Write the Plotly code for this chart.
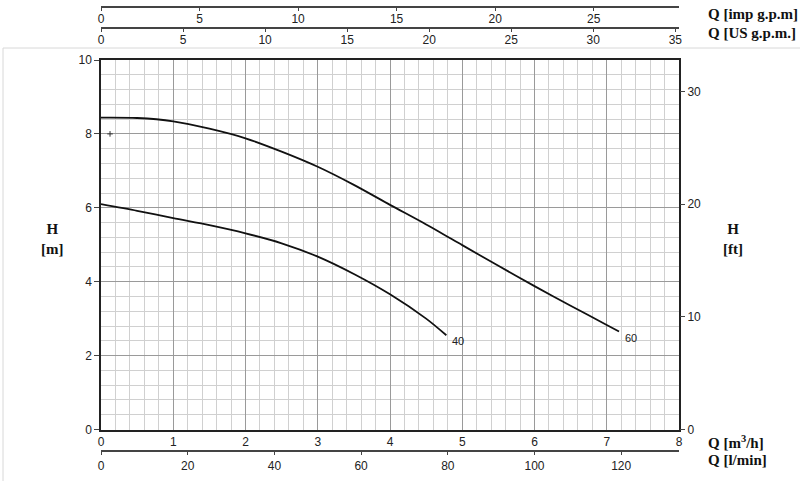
import plotly.graph_objects as go

# ---- data ----
q60 = [0, 0.5, 1, 1.5, 2, 2.5, 3, 3.5, 4, 4.5, 5, 5.5, 6, 6.5, 7, 7.17]
h60 = [8.44, 8.43, 8.34, 8.14, 7.88, 7.52, 7.11, 6.62, 6.08, 5.55, 4.99, 4.43, 3.88, 3.35, 2.83, 2.65]
q40 = [0, 0.5, 1, 1.5, 2, 2.5, 3, 3.5, 4, 4.5, 4.78]
h40 = [6.10, 5.92, 5.72, 5.53, 5.31, 5.04, 4.68, 4.21, 3.66, 3.00, 2.55]
curve_names = ["40", "60"]
marker_q = [0.125]
marker_h = [8.0]

q_max = 8.0          # m3/h
h_max = 10.0         # m
lmin_max = q_max * 1000 / 60
imp_max = lmin_max / 4.54609
us_max = lmin_max / 3.78541
ft_max = h_max / 0.3048

W, H = 800, 481
ML, MR = 101, 121
plot_top, plot_bot = 60, 429.5

def py(pix):
    return 1 - pix / H

def px(pix):
    return (pix - ML) / (W - ML - MR)

tick_font = dict(family="Liberation Sans, Arial, sans-serif", size=12, color="#222")
title_font = dict(family="Liberation Serif, Times New Roman, serif", size=15, color="#111")

fig = go.Figure()
line_style = dict(color="#111", width=1.8, shape="spline", smoothing=0.8)
fig.add_trace(go.Scatter(x=q40, y=h40, mode="lines", line=line_style, showlegend=False, hoverinfo="skip"))
fig.add_trace(go.Scatter(x=q60, y=h60, mode="lines", line=line_style, showlegend=False, hoverinfo="skip"))
fig.add_trace(go.Scatter(x=marker_q, y=marker_h, mode="markers",
                         marker=dict(symbol="cross-thin", size=4, line=dict(color="#333", width=1)),
                         showlegend=False, hoverinfo="skip"))
# helper traces to bind secondary axes
fig.add_trace(go.Scatter(x=[0], y=[0], xaxis="x2", yaxis="y", mode="none", showlegend=False, hoverinfo="skip"))
fig.add_trace(go.Scatter(x=[0], y=[0], xaxis="x3", yaxis="y", mode="none", showlegend=False, hoverinfo="skip"))
fig.add_trace(go.Scatter(x=[0], y=[0], xaxis="x4", yaxis="y", mode="none", showlegend=False, hoverinfo="skip"))
fig.add_trace(go.Scatter(x=[0], y=[0], xaxis="x", yaxis="y2", mode="none", showlegend=False, hoverinfo="skip"))

for qs, hs, name in zip([q40, q60], [h40, h60], curve_names):
    fig.add_annotation(x=qs[-1], y=hs[-1], text=name, showarrow=False, xanchor="left",
                       yanchor="middle", xshift=4, yshift=-6,
                       font=dict(family="Liberation Sans, Arial, sans-serif", size=11, color="#222"))

sec_axis = dict(anchor="free", overlaying="x", side="bottom", showgrid=False, zeroline=False,
                showline=True, linecolor="#444", linewidth=1.5, ticks="outside", ticklen=3,
                tickcolor="#444", tickfont=tick_font)

fig.update_layout(
    width=W, height=H,
    margin=dict(l=ML, r=MR, t=0, b=0, autoexpand=False),
    paper_bgcolor="white", plot_bgcolor="white",
    xaxis=dict(range=[0, q_max], dtick=1, showgrid=True, gridcolor="#9a9a9a", gridwidth=1,
               minor=dict(dtick=0.2, showgrid=True, gridcolor="#d0d0d0", gridwidth=1),
               showline=True, mirror=True, linecolor="#222", linewidth=1.5, zeroline=False,
               ticks="", tickfont=tick_font),
    yaxis=dict(range=[0, h_max], dtick=2, domain=[py(plot_bot), py(plot_top)],
               showgrid=True, gridcolor="#9a9a9a", gridwidth=1,
               minor=dict(dtick=0.4, showgrid=True, gridcolor="#d0d0d0", gridwidth=1),
               showline=True, mirror=True, linecolor="#222", linewidth=1.5, zeroline=False,
               ticks="outside", ticklen=5, tickcolor="#444", tickfont=tick_font),
    yaxis2=dict(range=[0, ft_max], dtick=10, overlaying="y", side="right", anchor="x",
                showgrid=False, zeroline=False, showline=False,
                ticks="outside", ticklen=5, tickcolor="#444", tickfont=tick_font),
    xaxis2=dict(range=[0, imp_max], dtick=5, position=py(7), ticklabelstandoff=-2, **sec_axis),
    xaxis3=dict(range=[0, us_max], dtick=5, position=py(28), ticklabelstandoff=-2, **sec_axis),
    xaxis4=dict(range=[0, lmin_max], dtick=20, position=py(451), ticklabelstandoff=1, **sec_axis),
)

# light outer frame
fig.add_shape(type="rect", xref="paper", yref="paper",
              x0=px(3), x1=px(805), y0=py(490), y1=py(48),
              line=dict(color="#d8d8d8", width=1), layer="below")

titles = [
    ("<b>Q [imp g.p.m]</b>", 706, 14),
    ("<b>Q [US g.p.m.]</b>", 706, 33),
    ("<b>Q [m<sup>3</sup>/h]</b>", 706, 442),
    ("<b>Q [l/min]</b>", 706, 460),
]
for txt, x, y in titles:
    fig.add_annotation(x=px(x), y=py(y), xref="paper", yref="paper", text=txt, showarrow=False,
                       xanchor="left", yanchor="middle", font=title_font)

fig.add_annotation(x=px(52), y=py(239), xref="paper", yref="paper", text="<b>H</b><br><b>[m]</b>",
                   showarrow=False, xanchor="center", yanchor="middle", font=title_font)
fig.add_annotation(x=px(733), y=py(239), xref="paper", yref="paper", text="<b>H</b><br><b>[ft]</b>",
                   showarrow=False, xanchor="center", yanchor="middle", font=title_font)

fig.write_html("out.html", config={"displayModeBar": False},
               post_script="document.body.style.margin='0';document.body.style.padding='0';")
